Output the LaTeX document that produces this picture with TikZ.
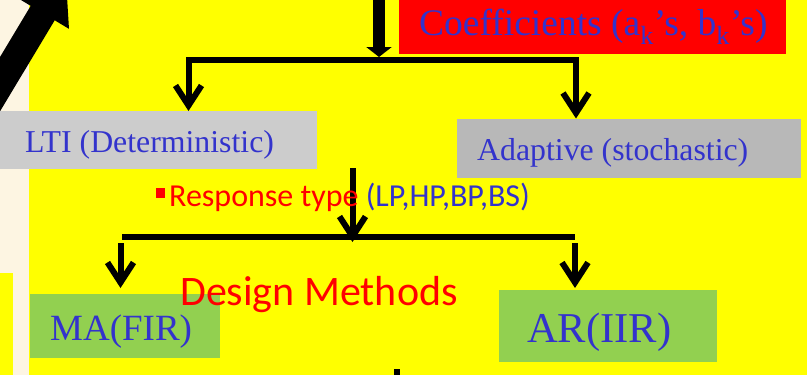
\documentclass[tikz,border=0pt]{standalone}
\usepackage{fontspec}
\setmainfont{Liberation Serif}
\newfontfamily\calibfont{Carlito}
\usetikzlibrary{arrows.meta}
\definecolor{bgyellow}{RGB}{255,255,0}
\definecolor{cream}{RGB}{253,245,226}
\definecolor{ltigray}{RGB}{204,204,204}
\definecolor{adaptgray}{RGB}{184,184,184}
\definecolor{boxred}{RGB}{255,0,0}
\definecolor{boxgreen}{RGB}{146,208,80}
\definecolor{txtblue}{RGB}{51,51,204}
\definecolor{txtred}{RGB}{255,0,0}
\tikzset{
  vtip/.tip={Straight Barb[length=20pt,width=26pt]},
  box/.style={rectangle, draw=none, inner sep=0pt, anchor=north west},
  lbl/.style={anchor=base west, inner sep=0pt, text=txtblue},
  barbline/.style={line width=6pt, line join=miter, -vtip},
  plainline/.style={line width=6pt},
}
\newcommand{\fsz}[1]{\fontsize{#1}{#1}\selectfont}
\begin{document}
\begin{tikzpicture}[x=1pt,y=-1pt]
\useasboundingbox (0,0) rectangle (807,375);
\begin{scope}
\clip (0,0) rectangle (807,375);
% slide background
\fill[bgyellow] (0,0) rectangle (807,375);
\fill[cream] (0,0) rectangle (29,375);
\fill[bgyellow] (0,273) rectangle (13,375);
% large diagonal arrow in the corner
\coordinate (bigTail) at (-19.6,116.8);
\coordinate (bigTip) at (65.9,-25.5);
\draw[line width=28pt, -{Triangle[width=58pt,length=45pt]}] (bigTail) -- (bigTip);

% boxes
\node[box, fill=boxred, minimum width=387pt, minimum height=54pt] (coef) at (399,0) {};
\node[box, fill=ltigray, minimum width=317pt, minimum height=58pt] (lti) at (0,111) {};
\node[box, fill=adaptgray, minimum width=344pt, minimum height=59pt] (adapt) at (457,118.5) {};
\node[box, fill=boxgreen, minimum width=190pt, minimum height=64pt] (ma) at (30,294) {};
\node[box, fill=boxgreen, minimum width=218pt, minimum height=72pt] (ar) at (499,290) {};

% connectors
\coordinate (topIn) at (379,-2);
\coordinate (topJoin) at (379,57);
\draw[line width=12pt, -{Triangle[width=25pt,length=10pt]}] (topIn) -- (topJoin);

\coordinate (brL) at (188.5,60);
\coordinate (brR) at (576,60);
\draw[line width=6pt, line join=miter, vtip-vtip] (brL |- lti.north) -- (brL) -- (brR) -- (brR |- adapt.north);

\coordinate (midTop) at (352.5,168);
\coordinate (midTip) at (352.5,242);
\draw[barbline] (midTop) -- (midTip);

\coordinate (lowL) at (122,237);
\coordinate (lowR) at (575,237);
\draw[plainline] (lowL) -- (lowR);

\coordinate (maFrom) at (120.5,243);
\coordinate (maTip) at (120.5,288);
\draw[barbline] (maFrom) -- (maTip);
\coordinate (arFrom) at (575,243);
\coordinate (arTip) at (575,288);
\draw[barbline] (arFrom) -- (arTip);

\coordinate (stubTop) at (397,369);
\coordinate (stubEnd) at (397,377);
\draw[plainline] (stubTop) -- (stubEnd);

% texts
\node[lbl, font=\fsz{37.5}] (coefText) at (419,35) {Coefficients (a\textsubscript{k}’s, b\textsubscript{k}’s)};
\node[lbl, font=\fsz{31.8}] (ltiText) at (25,152) {LTI (Deterministic)};
\node[lbl, font=\fsz{31.8}] (adaptText) at (477,160) {Adaptive (stochastic)};
\node[rectangle, fill=txtred, inner sep=0pt, minimum width=9pt, minimum height=10pt, anchor=north west] (bullet) at (156,188) {};
\node[lbl, font=\calibfont\fsz{32}] (respText) at (169,206) {\textcolor{txtred}{Response type} (LP,HP,BP,BS)};
\node[lbl, font=\calibfont\fsz{42}, text=txtred] (designText) at (180,305) {Design Methods};
\node[lbl, font=\fsz{37}] (maText) at (50,340) {MA(FIR)};
\node[lbl, font=\fsz{42.5}] (arText) at (527,342) {AR(IIR)};
\end{scope}
\end{tikzpicture}
\end{document}
